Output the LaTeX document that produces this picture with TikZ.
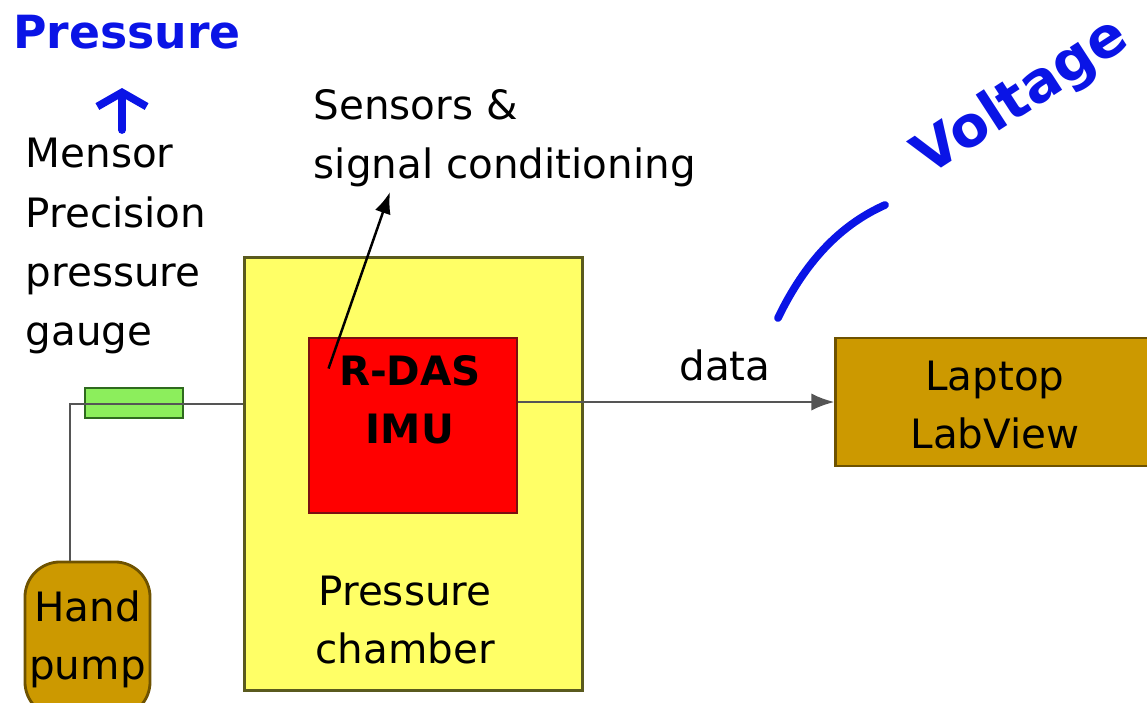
\documentclass[tikz,border=0pt]{standalone}
\usepackage{fontspec}
\setmainfont{DejaVu Sans}
\usetikzlibrary{arrows.meta,positioning}
\definecolor{chamberyellow}{HTML}{FFFF66}
\definecolor{chamberedge}{HTML}{5A5A1E}
\definecolor{imured}{HTML}{FF0000}
\definecolor{imuedge}{HTML}{7A1010}
\definecolor{gold}{HTML}{CC9900}
\definecolor{goldedge}{HTML}{6E5200}
\definecolor{gaugegreen}{HTML}{8CEE5C}
\definecolor{gaugeedge}{HTML}{2E6A1E}
\definecolor{pipegray}{HTML}{555555}
\definecolor{inkblue}{HTML}{0A14E6}
\tikzset{
  lbl/.style={font=\fontsize{11.5}{16.8}\selectfont, align=left, inner sep=0pt},
  box/.style={draw, line width=0.8pt, inner sep=0pt, align=center,
    font=\fontsize{11.5}{16.5}\selectfont},
  boxtxt/.style={inner sep=0pt, align=center, font=\fontsize{11.5}{16.5}\selectfont},
  pipe/.style={pipegray, line width=0.8pt},
  ink/.style={inkblue, line width=2.2pt, line cap=round},
}
\begin{document}
\begin{tikzpicture}[x=0.01cm, y=-0.01cm, >=Latex]
  \useasboundingbox (0,0) rectangle (1147,702);
  \node[box, fill=chamberyellow, draw=chamberedge, minimum width=3.37cm, minimum height=4.32cm] (chamber) at (413.5,474) {};
  \node[boxtxt] (chambertxt) at (405,620) {Pressure\\chamber};
  \node[box, fill=imured, draw=imuedge, minimum width=2.08cm, minimum height=1.75cm] (rdas) at (413,425.5) {};
  \node[boxtxt, font=\fontsize{11.5}{16.5}\selectfont\bfseries] (rdastxt) at (410,400) {R-DAS\\IMU};
  \node[box, fill=gold, draw=goldedge, minimum width=3.3cm, minimum height=1.28cm] (laptop) at (1001,402) {};
  \node[boxtxt] (laptoptxt) at (995,405) {Laptop\\LabView};
  \node[box, fill=gold, draw=goldedge, rounded corners=10pt, minimum width=1.25cm, minimum height=1.55cm] (pump) at (87.5,639.5) {Hand\\pump};
  \node[box, fill=gaugegreen, draw=gaugeedge, minimum width=0.98cm, minimum height=0.3cm] (gauge) at (134,403) {};
  \node[lbl, anchor=west] (mensor) at (25,246) {Mensor\\Precision\\pressure\\gauge};
  \node[lbl, anchor=west] (sensors) at (313,138) {Sensors \&\\signal conditioning};
  \node[lbl] (data) at (725,365) {data};
  \coordinate (bend) at (70,404);
  \coordinate (sensortip) at (390,192);
  \draw[pipe] (bend |- pump.north) -- (bend) -- (bend -| chamber.west);
  \draw[pipe, ->] (laptop.west -| rdas.east) -- (laptop.west);
  \draw[black, line width=0.7pt, ->] ([shift={(21,32)}]rdas.north west) -- (sensortip);
  \node[inkblue, font=\fontsize{13}{13}\selectfont\bfseries, inner sep=0pt] (pressurenote) at (127,32) {Pressure};
  \coordinate (pbase) at (122,130);
  \draw[ink, -{Straight Barb[length=4pt, width=14pt]}] (pbase) -- (122,88);
  \coordinate (vstart) at (778,318);
  \coordinate (vend) at (885,205);
  \draw[ink] (vstart) .. controls (805,262) and (840,225) .. (vend);
  \node[inkblue, font=\fontsize{16}{16}\selectfont\bfseries, inner sep=0pt, rotate=33] (voltagenote) at (1022,98) {Voltage};
\end{tikzpicture}
\end{document}
